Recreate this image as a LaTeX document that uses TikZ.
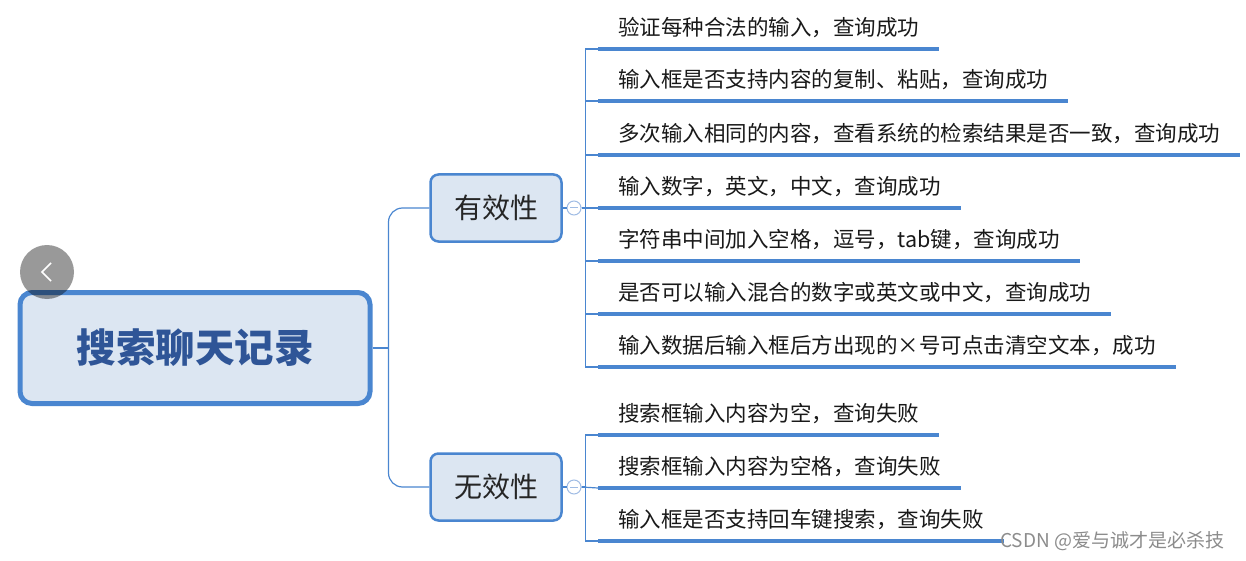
\documentclass[tikz,border=0pt]{standalone}
\usepackage{fontspec}
\setmainfont{Noto Sans CJK SC}
\usetikzlibrary{positioning}
\definecolor{mapblue}{RGB}{74,134,208}
\definecolor{mapfill}{RGB}{220,230,242}
\definecolor{roottext}{RGB}{47,85,151}
\definecolor{foldring}{RGB}{160,188,228}

\begin{document}
\begin{tikzpicture}[x=1pt,y=-1pt,
  rootbox/.style={draw=mapblue,line width=5pt,fill=mapfill,rounded corners=12pt,minimum width=350pt,minimum height=111pt,font=\fontsize{39.5}{42}\selectfont\bfseries,text=roottext},
  topicbox/.style={draw=mapblue,line width=2.5pt,fill=mapfill,rounded corners=8pt,minimum width=131pt,minimum height=67pt,font=\fontsize{28}{30}\selectfont,text=black!85},
  foldmark/.style={circle,draw=foldring,line width=1pt,fill=white,minimum size=14pt,inner sep=0pt},
  leaf/.style={anchor=south west,inner xsep=20pt,inner ysep=8pt,text height=17pt,text depth=5pt,font=\fontsize{21.5}{24}\selectfont,text=black!90},
  leafline/.style={draw=mapblue,line width=4pt},
  link/.style={draw=mapblue,line width=1.2pt},
  rootlink/.style={draw=mapblue,line width=1.2pt,rounded corners=14pt}]
\useasboundingbox (0,0) rectangle (1246,561);
\node[rootbox] (root) at (195,348) {搜索聊天记录};
\node[topicbox] (t1) at (496,208) {有效性};
\node[topicbox] (t2) at (496,487) {无效性};
\node[foldmark] (m1) at (574,208) {};
\node[foldmark] (m2) at (574,487) {};
\draw[foldring,line width=1pt] ([xshift=-4pt]m1.center) -- ([xshift=4pt]m1.center);
\draw[foldring,line width=1pt] ([xshift=-4pt]m2.center) -- ([xshift=4pt]m2.center);
\coordinate (fork) at ([xshift=16pt]root.east);
\draw[link] (root.east) -- (fork);
\draw[rootlink] (fork) |- (t1.west);
\draw[rootlink] (fork) |- (t2.west);
\draw[link] (t1.east) -- (m1.west);
\draw[link] (t2.east) -- (m2.west);
\node[leaf] (l1) at (598,49) {验证每种合法的输入，查询成功};
\node[leaf] (l2) at (598,101) {输入框是否支持内容的复制、粘贴，查询成功};
\node[leaf] (l3) at (598,155) {多次输入相同的内容，查看系统的检索结果是否一致，查询成功};
\node[leaf] (l4) at (598,208) {输入数字，英文，中文，查询成功};
\node[leaf] (l5) at (598,261) {字符串中间加入空格，逗号，tab键，查询成功};
\node[leaf] (l6) at (598,314) {是否可以输入混合的数字或英文或中文，查询成功};
\node[leaf] (l7) at (598,367) {输入数据后输入框后方出现的×号可点击清空文本，成功};
\node[leaf] (l8) at (598,435) {搜索框输入内容为空，查询失败};
\node[leaf] (l9) at (598,488) {搜索框输入内容为空格，查询失败};
\node[leaf] (l10) at (598,541) {输入框是否支持回车键搜索，查询失败};
\draw[link] (m1.east) -- ++(4,0) |- (l1.south west);
\draw[link] (m1.east) -- ++(4,0) |- (l2.south west);
\draw[link] (m1.east) -- ++(4,0) |- (l3.south west);
\draw[link] (m1.east) -- (l4.south west);
\draw[link] (m1.east) -- ++(4,0) |- (l5.south west);
\draw[link] (m1.east) -- ++(4,0) |- (l6.south west);
\draw[link] (m1.east) -- ++(4,0) |- (l7.south west);
\draw[link] (m2.east) -- ++(4,0) |- (l8.south west);
\draw[link] (m2.east) -- (l9.south west);
\draw[link] (m2.east) -- ++(4,0) |- (l10.south west);
\draw[leafline] (l1.south west) -- (l1.south east);
\draw[leafline] (l2.south west) -- (l2.south east);
\draw[leafline] (l3.south west) -- (l3.south east);
\draw[leafline] (l4.south west) -- (l4.south east);
\draw[leafline] (l5.south west) -- (l5.south east);
\draw[leafline] (l6.south west) -- (l6.south east);
\draw[leafline] (l7.south west) -- (l7.south east);
\draw[leafline] (l8.south west) -- (l8.south east);
\draw[leafline] (l9.south west) -- (l9.south east);
\draw[leafline] (l10.south west) -- (l10.south east);
\node[circle,fill=black,fill opacity=0.4,minimum size=54pt,inner sep=0pt] (back) at (47,272) {};
\draw[white,line width=1.5pt] ([shift={(4,-9)}]back.center) -- ([xshift=-5pt]back.center) -- ([shift={(4,9)}]back.center);
\node[anchor=west,inner sep=0pt,text=black!45,font=\fontsize{19}{21}\selectfont] (mark) at (1000,541) {CSDN @爱与诚才是必杀技};
\end{tikzpicture}
\end{document}
